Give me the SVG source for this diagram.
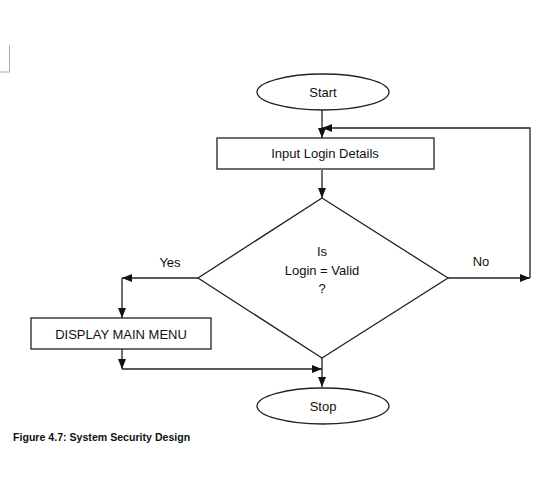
<svg xmlns="http://www.w3.org/2000/svg" width="554" height="478" viewBox="0 0 554 478">
<style>
.s{fill:#fff;stroke:#222;stroke-width:1.3}
.c{fill:none;stroke:#222;stroke-width:1.3}
.t{font-family:"Liberation Sans",Arial,sans-serif;font-size:13px;fill:#111;text-anchor:middle}
.cap{font-family:"Liberation Sans",Arial,sans-serif;font-size:10.6px;font-weight:bold;fill:#111}
</style>
<defs>
<marker id="a" viewBox="0 0 10 8" refX="10" refY="4" markerWidth="10" markerHeight="8" markerUnits="userSpaceOnUse" orient="auto">
<path d="M0,0 L10,4 L0,8 Z" fill="#111"/>
</marker>
</defs>
<path d="M0,72 H9.5 V45" fill="none" stroke="#aaa" stroke-width="1"/>
<g id="connectors">
<path class="c" d="M322,110 V138" marker-end="url(#a)"/>
<path class="c" d="M530,278 V128 H322" marker-end="url(#a)"/>
<path class="c" d="M322,170 V198" marker-end="url(#a)"/>
<path class="c" d="M198,278 H122" marker-end="url(#a)"/>
<path class="c" d="M122,278 V318" marker-end="url(#a)"/>
<path class="c" d="M448,278 H530" marker-end="url(#a)"/>
<path class="c" d="M122,349 V369" marker-end="url(#a)"/>
<path class="c" d="M122,369 H322" marker-end="url(#a)"/>
<path class="c" d="M322,358 V387" marker-end="url(#a)"/>
<text class="t" x="170" y="267">Yes</text>
<text class="t" x="481" y="266">No</text>
</g>
<g id="start">
<ellipse class="s" cx="323" cy="92" rx="66" ry="18"/>
<text class="t" x="323" y="97" font-size="14">Start</text>
</g>
<g id="input">
<rect class="s" x="217" y="138" width="217" height="31"/>
<text class="t" x="325" y="158">Input Login Details</text>
</g>
<g id="decision">
<path class="s" d="M322,198 L448,278 L322,358 L198,278 Z"/>
<text class="t" x="322" y="256">Is</text>
<text class="t" x="322" y="275">Login = Valid</text>
<text class="t" x="322" y="293">?</text>
</g>
<g id="display">
<rect class="s" x="31" y="318" width="180" height="31"/>
<text class="t" x="121" y="339" font-size="14.5">DISPLAY MAIN MENU</text>
</g>
<g id="stop">
<ellipse class="s" cx="323" cy="406" rx="66" ry="18"/>
<text class="t" x="323" y="411" font-size="14">Stop</text>
</g>
<text class="cap" x="13" y="441">Figure 4.7: System Security Design</text>
</svg>
